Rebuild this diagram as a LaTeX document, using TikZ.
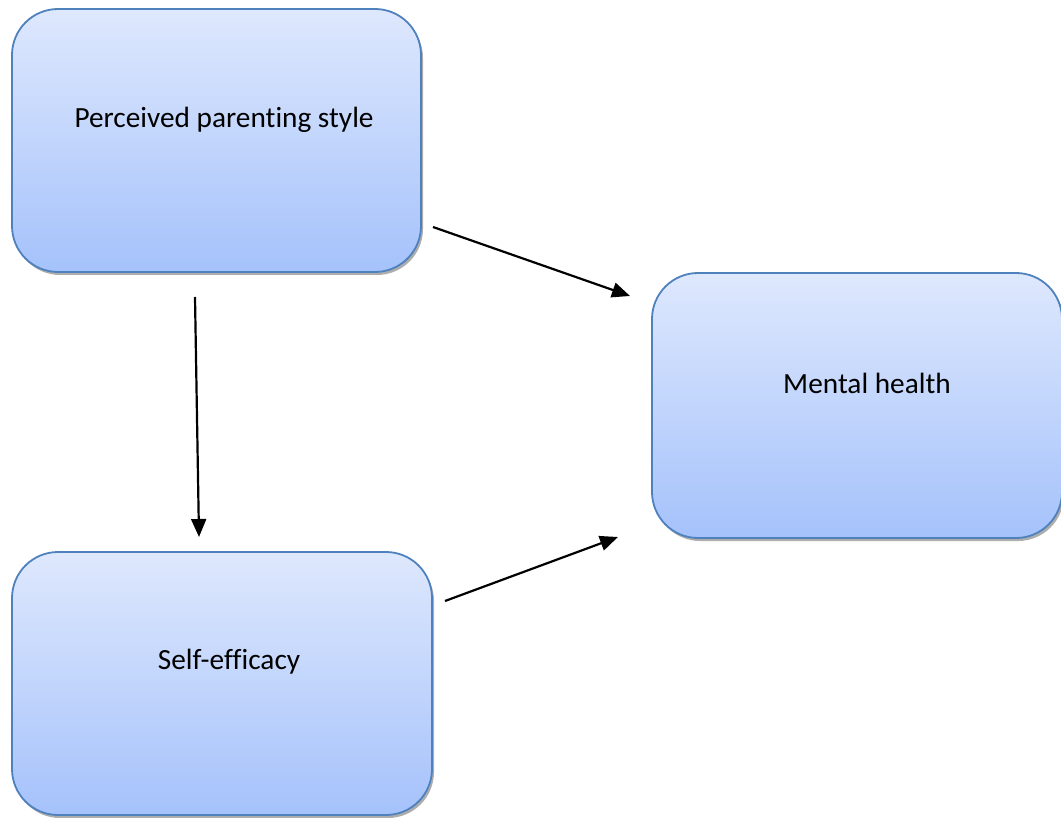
\documentclass[tikz,border=0pt]{standalone}
\usepackage{fontspec}
\setmainfont{Carlito}[Ligatures=CommonOff]
\usetikzlibrary{arrows.meta,shadows}
\definecolor{topc}{HTML}{DEE8FD}
\definecolor{botc}{HTML}{A5C2FB}
\definecolor{edgec}{HTML}{4F81BD}
\begin{document}
\begin{tikzpicture}[x=1pt,y=-1pt,
  box/.style={draw=edgec,line width=1.8pt,rounded corners=46pt,top color=topc,bottom color=botc,
    drop shadow={shadow xshift=2pt,shadow yshift=-3pt,fill=black!40,opacity=0.8}},
  lbl/.style={font=\fontsize{29.3}{34}\selectfont,text=black},
  arr/.style={line width=2.2pt,-{Triangle[length=18pt,width=15pt]}}]
\useasboundingbox (0,0) rectangle (1061,818);
\path[box] (12,9) rectangle (421,272);
\path[box] (652,273) rectangle (1062,538);
\path[box] (12,552) rectangle (432,815);
\node[lbl] (A) at (224,120) {Perceived parenting style};
\node[lbl] (B) at (867,383) {Mental health};
\node[lbl] (C) at (229,662) {Self-efficacy};
\coordinate (a1) at (433,227);
\coordinate (a2) at (630,296);
\coordinate (b1) at (195,297);
\coordinate (b2) at (199,537);
\coordinate (c1) at (445,601);
\coordinate (c2) at (618,537);
\draw[arr] (a1) -- (a2);
\draw[arr] (b1) -- (b2);
\draw[arr] (c1) -- (c2);
\end{tikzpicture}
\end{document}
